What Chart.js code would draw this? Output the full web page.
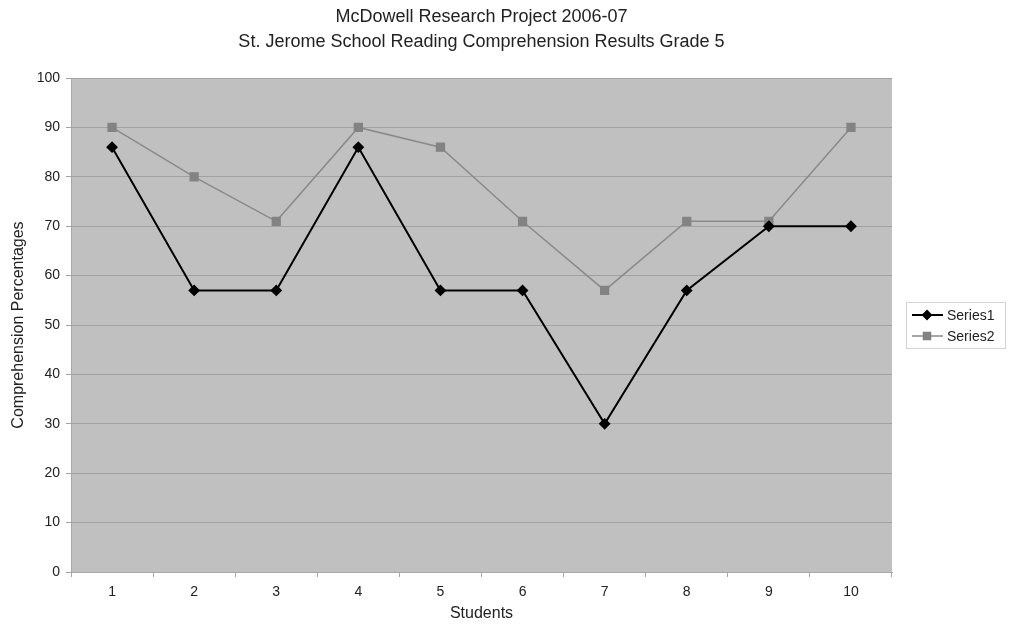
<!DOCTYPE html>
<html>
<head>
<meta charset="utf-8">
<script src="https://cdn.jsdelivr.net/npm/chart.js@4/dist/chart.umd.min.js"></script>
<style>
  html, body { margin: 0; padding: 0; background: #fff; }
  #wrap { width: 1012px; height: 624px; }
</style>
</head>
<body>
<div id="wrap"><canvas id="chart" width="1012" height="624"></canvas></div>
<script>
// Data
const students = ['1', '2', '3', '4', '5', '6', '7', '8', '9', '10'];
const series1 = [86, 57, 57, 86, 57, 57, 30, 57, 70, 70];
const series2 = [90, 80, 71, 90, 86, 71, 57, 71, 71, 90];
const titleLines = ['McDowell Research Project 2006-07', 'St. Jerome School Reading Comprehension Results Grade 5'];

const FONT = '"Liberation Sans", Arial, sans-serif';

// Gray plot background
const plotBg = {
    id: 'plotBg',
    beforeDraw(chart) {
        const a = chart.chartArea;
        const ctx = chart.ctx;
        ctx.save();
        ctx.fillStyle = '#c0c0c0';
        ctx.fillRect(a.left, a.top, a.right - a.left, a.bottom - a.top);
        ctx.restore();
    }
};

// Excel-style legend: line with marker, boxed
const sideLegend = {
    id: 'sideLegend',
    afterDraw(chart) {
        const ctx = chart.ctx;
        const x = 906, y = 302, w = 99, h = 46;
        ctx.save();
        ctx.strokeStyle = '#d4d4d4';
        ctx.lineWidth = 1;
        ctx.strokeRect(x + 0.5, y + 0.5, w, h);
        ctx.font = '14px ' + FONT;
        ctx.textBaseline = 'middle';
        chart.data.datasets.forEach((ds, i) => {
            const cy = y + 13 + i * 21;
            ctx.strokeStyle = ds.borderColor;
            ctx.lineWidth = ds.borderWidth;
            ctx.beginPath();
            ctx.moveTo(x + 6, cy);
            ctx.lineTo(x + 37, cy);
            ctx.stroke();
            ctx.fillStyle = ds.pointBackgroundColor;
            ctx.strokeStyle = ds.pointBorderColor;
            Chart.helpers.drawPoint(ctx, {
                pointStyle: ds.pointStyle,
                radius: ds.pointRadius - 0.5,
                borderWidth: 1
            }, x + 21, cy);
            ctx.fillStyle = '#222';
            ctx.fillText(ds.label, x + 41, cy + 1);
        });
        ctx.restore();
    }
};

new Chart(document.getElementById('chart'), {
    type: 'line',
    data: {
        labels: students,
        datasets: [{
            label: 'Series1',
            data: series1,
            borderColor: '#000',
            borderWidth: 2,
            pointStyle: 'rectRot',
            pointRadius: 4.5,
            pointBackgroundColor: '#000',
            pointBorderColor: '#000',
            tension: 0
        }, {
            label: 'Series2',
            data: series2,
            borderColor: '#8a8a8a',
            borderWidth: 1.5,
            pointStyle: 'rect',
            pointRadius: 5.5,
            pointBackgroundColor: '#838383',
            pointBorderColor: '#838383',
            tension: 0
        }]
    },
    options: {
        responsive: false,
        animation: false,
        layout: { padding: { top: 0, right: 120, bottom: 0, left: 0 } },
        scales: {
            x: {
                offset: true,
                afterFit(scale) { scale.height = 52; },
                grid: {
                    display: true,
                    drawOnChartArea: false,
                    offset: true,
                    tickLength: 5,
                    color: '#a8a8a8'
                },
                border: { color: '#a8a8a8' },
                ticks: { color: '#222', font: { family: FONT, size: 14 }, padding: 7 },
                title: {
                    display: true,
                    text: 'Students',
                    color: '#222',
                    font: { family: FONT, size: 16 },
                    padding: { top: 0, bottom: 1 }
                }
            },
            y: {
                min: 0,
                max: 100,
                afterFit(scale) { scale.width = 71; },
                grid: { color: '#a2a2a2', tickLength: 5 },
                border: { color: '#a8a8a8' },
                ticks: { stepSize: 10, color: '#222', font: { family: FONT, size: 14 }, padding: 6 },
                title: {
                    display: true,
                    text: 'Comprehension Percentages',
                    color: '#222',
                    font: { family: FONT, size: 16 },
                    padding: { top: 9, bottom: 0 }
                }
            }
        },
        plugins: {
            legend: { display: false },
            tooltip: { enabled: false },
            title: {
                display: true,
                fullSize: false,
                text: titleLines,
                color: '#222',
                font: { family: FONT, size: 18, weight: 'normal', lineHeight: 1.39 },
                padding: { top: 4.5, bottom: 23.5 }
            }
        }
    },
    plugins: [plotBg, sideLegend]
});
</script>
</body>
</html>
